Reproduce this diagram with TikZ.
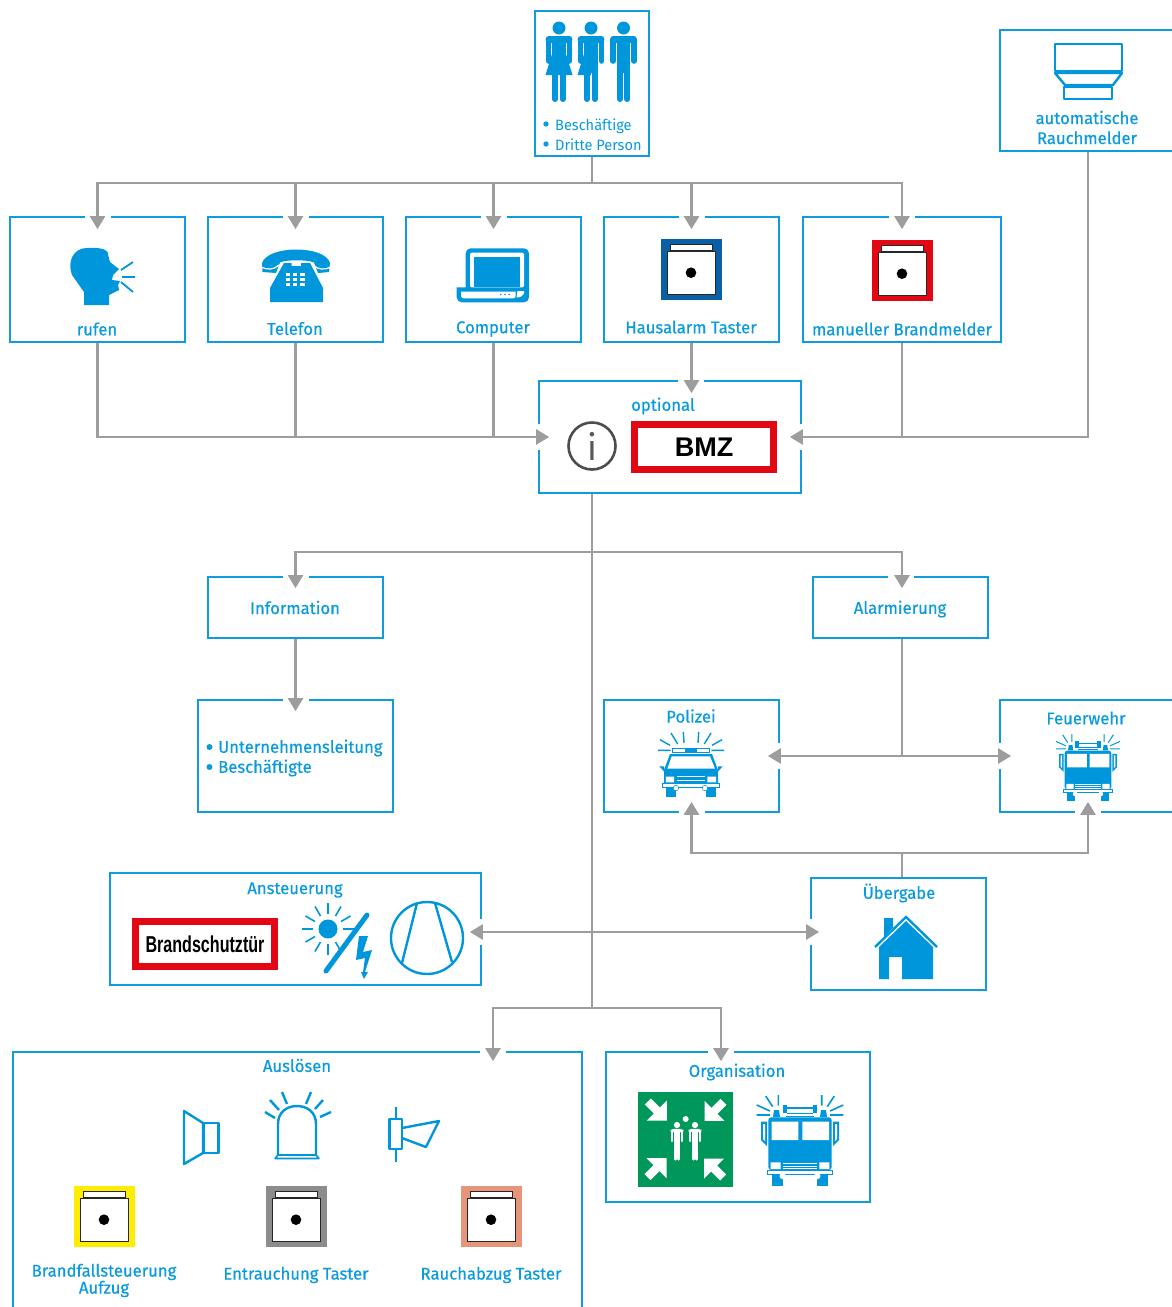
\documentclass[tikz,border=0pt]{standalone}
\usepackage{fontspec}
\setmainfont{Fira Sans}
\newfontfamily\lblfont[FakeStretch=0.98,FakeBold=0.45]{Fira Sans}
\newfontfamily\thinfont[FakeStretch=0.97]{Fira Sans}
\newfontfamily\signfont[FakeStretch=0.7]{Liberation Sans}
\usetikzlibrary{arrows.meta}
\definecolor{cblue}{HTML}{0F9BDC}
\definecolor{ctext}{HTML}{0A9BDE}
\definecolor{cicon}{HTML}{0096DB}
\definecolor{cgray}{HTML}{9D9D9D}
\definecolor{cred}{HTML}{E30613}
\definecolor{chaus}{HTML}{0B5FA5}
\definecolor{cyel}{HTML}{FFED00}
\definecolor{cdgray}{HTML}{8C8C8C}
\definecolor{csalm}{HTML}{E6957A}
\definecolor{cgreen}{HTML}{00985A}

\tikzset{
  bx/.style={draw=cblue,line width=1.7pt,fill=white,inner sep=0pt},
  lbl/.style={text=ctext,font=\lblfont\fontsize{17}{20}\selectfont,inner sep=0pt,align=center},
  line/.style={draw=cgray,line width=2.5pt},
  arr/.style={line,-{Triangle[width=15pt,length=13pt]}},
  arrboth/.style={line,{Triangle[width=15pt,length=13pt]}-{Triangle[width=15pt,length=13pt]}},
  ico/.style={draw=cicon,line width=2.4pt,line join=round},
  ray/.style={draw=cicon,line width=#1},
  sign/.style={draw=cred,line width=7.5pt,fill=white,minimum width=139pt,minimum height=45pt,inner sep=0pt},
  % push button with coloured frame
  taster/.pic={
    \fill[#1] (-30.5,-30.5) rectangle (30.5,30.5);
    \filldraw[fill=white,draw=black!85,line width=.9pt] (-24.2,-17.8) rectangle (24.2,24.5);
    \filldraw[fill=white,draw=black!85,line width=.9pt] (-21.3,-25.5) rectangle (21.3,-19.5);
    \fill[black] (-.5,3.2) circle(5.3);
  },
  % standing figure
  figscale/.initial=1,
  figure/.pic={
    \fill[#1] (0,0) circle(6.5);
    \fill[#1,rounded corners=3pt] (-13.3,15) -- (-13.3,8) -- (13.3,8) -- (13.3,15) -- cycle;
    \draw[#1,line width=5.6pt*\pgfkeysvalueof{/tikz/figscale},line cap=round] (-10.5,13) -- (-10.5,33) (10.5,13) -- (10.5,33);
    \fill[#1] (-6.8,12) rectangle (6.8,45);
    \draw[#1,line width=6pt*\pgfkeysvalueof{/tikz/figscale},line cap=round] (-3.9,40) -- (-3.9,71) (3.9,40) -- (3.9,71);
  },
  % front view of the fire engine
  engine/.pic={
    \foreach \s in {-1,1} {
      \begin{scope}[xscale=\s]
        \fill[cicon] (-39,-18.3) -- (-33,-18.3) -- (-33,6) -- (-39,0) -- cycle;
        \fill[white] (-37,-16) -- (-35,-16) -- (-35,1) -- (-37,-1) -- cycle;
        \draw[ray=#1] (-43.3,-35) -- (-30,-29) (-34.3,-44) -- (-27.3,-33.3) (-21.7,-45) -- (-21.7,-34.3) (-43.3,-25) -- (-30,-25);
        \fill[cicon] (-26,-30) -- (-21,-30) -- (-20,-23) -- (-27,-23) -- cycle;
        \fill[cicon] (-17.3,-35) rectangle (-12.7,-26.7);
        \fill[cicon] (-28.3,34) rectangle (-17.3,46);
      \end{scope}
    }
    \fill[cicon] (-12.7,-33.5) rectangle (12.7,-31);
    \draw[cicon,line width=.9pt] (-12.7,-26.5) -- (12.7,-26.5) (-14,-24) -- (14,-24);
    \fill[cicon,rounded corners=3pt] (-31.7,30) -- (-31.7,-22.7) -- (31.7,-22.7) -- (31.7,30) -- cycle;
    \fill[white] (-28.3,-18.3) rectangle (-1.7,0) (2.3,-18.3) rectangle (29,0);
    \fill[white] (-29.3,22.3) rectangle (-19.3,29) (19.3,22.3) rectangle (29.3,29);
    \draw[white,line width=.9pt] (-17,23) -- (17,23) (-17,26) -- (17,26) (-17,28.6) -- (17,28.6);
    \filldraw[fill=white,draw=cicon,line width=.9pt] (-32.7,30) rectangle (32.7,34.3);
    \fill[white] (-17.3,36) circle(3.2) (17.3,36) circle(3.2);
  },
  % corner arrow of the assembly sign
  corner/.pic={
    \fill[white] (0,0) -- (0,-20) -- (-7,-13) -- (-16,-22) -- (-22,-16) -- (-13,-7) -- (-20,0) -- cycle;
  }
}

% white break in a frame where an arrow enters
\newcommand{\gapflat}[2][]{\fill[white] ([#1,shift={(-13pt,-3pt)}]#2) rectangle ([#1,shift={(13pt,3pt)}]#2);}
\newcommand{\gapside}[2][]{\fill[white] ([#1,shift={(-3pt,-13pt)}]#2) rectangle ([#1,shift={(3pt,13pt)}]#2);}

\begin{document}
\begin{tikzpicture}[x=1pt,y=-1pt]
\useasboundingbox (0,0) rectangle (1172,1307);

        % draw the frames
        \node[bx,minimum width=114pt,minimum height=145pt] (persons) at (592,83.5) {};
        \node[bx,minimum width=176pt,minimum height=121pt] (detector) at (1088,90.5) {};
        \node[bx,minimum width=175pt,minimum height=125pt] (rufen) at (97.5,279.5) {};
        \node[bx,minimum width=175pt,minimum height=125pt] (telefon) at (295.5,279.5) {};
        \node[bx,minimum width=175pt,minimum height=125pt] (computer) at (493.5,279.5) {};
        \node[bx,minimum width=175pt,minimum height=125pt] (hausalarm) at (691.5,279.5) {};
        \node[bx,minimum width=198pt,minimum height=125pt] (manuell) at (902,279.5) {};
        \node[bx,minimum width=262pt,minimum height=112pt] (bmz) at (670,437) {};
        \node[bx,minimum width=175pt,minimum height=61pt] (information) at (295.5,607.5) {};
        \node[bx,minimum width=175pt,minimum height=61pt] (alarmierung) at (900.5,607.5) {};
        \node[bx,minimum width=195pt,minimum height=112pt] (leitung) at (295.5,756) {};
        \node[bx,minimum width=175pt,minimum height=112pt] (polizei) at (691.5,756) {};
        \node[bx,minimum width=176pt,minimum height=112pt] (feuerwehr) at (1088,756) {};
        \node[bx,minimum width=371pt,minimum height=112pt] (ansteuerung) at (295.5,929) {};
        \node[bx,minimum width=175pt,minimum height=112pt] (uebergabe) at (898.5,934) {};
        \node[bx,minimum width=569pt,minimum height=270pt] (ausloesen) at (297.5,1187) {};
        \node[bx,minimum width=264pt,minimum height=150pt] (organisation) at (738,1127) {};

        % breaks in the frames
        \foreach \n in {rufen,telefon,computer,hausalarm,manuell,information,alarmierung,leitung} {
                \gapflat{\n.north}
        }
        \gapflat[xshift=21pt]{bmz.north}
        \gapside{bmz.west}
        \gapside{bmz.east}
        \gapside{polizei.east}
        \gapside{feuerwehr.west}
        \gapflat{polizei.south}
        \gapflat{feuerwehr.south}
        \gapside[yshift=-3pt]{ansteuerung.east}
        \gapside[yshift=2pt]{uebergabe.west}
        \gapflat[xshift=195.5pt]{ausloesen.north}
        \gapflat[xshift=-17pt]{organisation.north}

        % the info sign and the central line
        \node[circle,draw=black!70,line width=2.6pt,minimum size=47pt,inner sep=0pt,text=black!65,font=\thinfont\fontsize{36}{36}\selectfont] (infosym) at (592,446) {i};
        \coordinate (forkin) at (592,183);
        \coordinate (forkout) at (592,552);
        \coordinate (forkend) at (592,1008);
        \coordinate (alarmjoin) at (902,756);
        \coordinate (handover) at (902,853);

        % arrows into the alarm boxes
        \draw[line] (persons.south) -- (forkin);
        \foreach \n in {rufen,telefon,computer,hausalarm,manuell} {
                \draw[arr] (forkin) -| ([yshift=-13pt]\n.north);
        }

        % arrows into the central box
        \draw[arr] (rufen.south) |- ([xshift=11pt]bmz.west);
        \draw[line] (telefon.south) -- (telefon.south |- bmz.west);
        \draw[line] (computer.south) -- (computer.south |- bmz.west);
        \draw[arr] (hausalarm.south) -- ([xshift=21.5pt,yshift=-13pt]bmz.north);
        \draw[arr] (detector.south) |- ([xshift=-12pt]bmz.east);
        \draw[line] (manuell.south) -- (manuell.south |- bmz.east);

        % arrows out of the central box
        \draw[line] (infosym.south |- bmz.south) -- (forkend);
        \draw[arr] (forkout) -| ([yshift=-12pt]information.north);
        \draw[arr] (forkout) -| ([xshift=1.5pt,yshift=-12pt]alarmierung.north);
        \draw[arr] (information.south) -- ([yshift=-12pt]leitung.north);
        \draw[line] (alarmierung.south -| alarmjoin) -- (alarmjoin);
        \draw[arrboth] ([xshift=-12pt]polizei.east) -- ([xshift=12pt]feuerwehr.west);
        \draw[line] (uebergabe.north -| handover) -- (handover);
        \draw[arr] (handover) -| ([yshift=11pt]polizei.south);
        \draw[arr] (handover) -| ([yshift=11pt]feuerwehr.south);
        \draw[arrboth] ([xshift=-12pt,yshift=-3pt]ansteuerung.east) -- ([xshift=9pt,yshift=2pt]uebergabe.west);
        \draw[arr] (forkend) -| ([xshift=195.5pt,yshift=-10pt]ausloesen.north);
        \draw[arr] (forkend) -| ([xshift=-17pt,yshift=-10pt]organisation.north);

        % draw the labels
        \node[text=ctext,font=\thinfont\fontsize{15}{20}\selectfont,anchor=west,inner sep=0pt,align=left] (lblpersons) at (555,135) {Beschäftige\\Dritte Person};
        \foreach \y in {124,144} {
                \fill[ctext] (546,\y) circle(2.7);
        }
        \node[lbl] (lbldetector) at (1087,127.5) {automatische\\Rauchmelder};
        \node[lbl] (lblrufen) at (97,329) {rufen};
        \node[lbl] (lbltelefon) at (295,328.5) {Telefon};
        \node[lbl] (lblcomputer) at (493,329) {Computer};
        \node[lbl] (lblhausalarm) at (691,327) {Hausalarm Taster};
        \node[lbl] (lblmanuell) at (902,329) {manueller Brandmelder};
        \node[lbl] (lbloptional) at (663,406) {optional};
        \node[lbl] (lblinformation) at (295,607.5) {Information};
        \node[lbl] (lblalarmierung) at (900,609) {Alarmierung};
        \node[lbl,anchor=west,align=left] (lblleitung) at (218,758) {Unternehmensleitung\\Beschäftigte};
        \foreach \y in {747,767} {
                \fill[ctext] (209.5,\y) circle(3);
        }
        \node[lbl] (lblpolizei) at (691,716) {Polizei};
        \node[lbl] (lblfeuerwehr) at (1086,718) {Feuerwehr};
        \node[lbl] (lblansteuerung) at (295,890) {Ansteuerung};
        \node[lbl] (lbluebergabe) at (899,893) {Übergabe};
        \node[lbl] (lblausloesen) at (297,1065.5) {Auslösen};
        \node[lbl] (lblorganisation) at (737,1072) {Organisation};
        \node[lbl,font=\lblfont\fontsize{17}{17}\selectfont] (lblaufzug) at (104,1280.5) {Brandfallsteuerung\\Aufzug};
        \node[lbl] (lblentrauchung) at (296,1275) {Entrauchung Taster};
        \node[lbl] (lblrauchabzug) at (491,1275) {Rauchabzug Taster};

        % the two fire door signs
        \node[sign,font=\fontspec{Liberation Sans}\bfseries\fontsize{27}{27}\selectfont] (signbmz) at (704,447) {BMZ};
        \node[sign,font=\signfont\bfseries\fontsize{23}{23}\selectfont] (signtuer) at (205,944) {Brandschutztür};

        % draw the three figures
        \foreach \x in {559,591,623.5} {
                \pic at (\x,28) {figure=cicon};
        }
        \fill[cicon] (552,54) -- (545.5,75) -- (572.5,75) -- (566,54) -- cycle;
        \fill[cicon] (584,54) -- (577.5,75) -- (591,75) -- (591,54) -- cycle;

        % the detector
        \draw[ico] (1055,44) rectangle (1122,71);
        \draw[ico] (1055,73) -- (1122,73) -- (1113,85) -- (1065,85) -- cycle;
        \draw[ico] (1064,87) rectangle (1112,99);

        % the speaking head
        \fill[cicon] (84,305) -- (84,292) -- (72,275) .. controls (67,262) and (73,248) .. (87,248) .. controls (97,247) and (106,249) .. (107.5,252) -- (110,262) -- (119,269) -- (113,275) -- (112,280) -- (120,281) -- (118,285) -- (119,290) -- (109,295) -- (109,305) -- cycle;
        \draw[ico,line width=1.8pt] (121,270) -- (133,262) (122,277) -- (135,277) (121,282) -- (133,292);

        % the telephone
        \fill[cicon] (262.5,272) -- (262,263) .. controls (268,245) and (325,245) .. (330,263) -- (329,272) -- (318,273) -- (314,262.5) .. controls (308,259.5) and (285,259.5) .. (280,262.5) -- (276,273) -- cycle;
        \fill[cicon] (270,302) -- (270,288) -- (284,263) -- (291.7,263) -- (291.7,266) -- (301,266) -- (301,263) -- (310,263) -- (323,288) -- (323,302) -- cycle;
        \draw[white,line width=1.2pt] (261,267) .. controls (267,270) and (274,270) .. (279,265) (331,267) .. controls (325,270) and (318,270) .. (313,265);
        \foreach \x in {287.7,295,302.5} {
                \foreach \y in {274.3,279.3,284.3} {
                        \fill[white] (\x-2.2,\y-1.7) rectangle (\x+2.2,\y+1.7);
                }
        }

        % the laptop
        \fill[cicon,rounded corners=5pt] (465.7,248.3) rectangle (529,296);
        \fill[cicon] (456.7,287.3) [rounded corners=5pt] -- (456.7,302.3) -- (529,302.3) [sharp corners] -- (529,287.3) -- cycle;
        \fill[white,rounded corners=1.5pt] (470,252.5) rectangle (524,287.3);
        \fill[cicon] (474,257.3) rectangle (520,287.3);
        \fill[white] (461,291.7) [rounded corners=2.5pt] -- (461,298.3) -- (515.7,298.3) [sharp corners] -- (515.7,291.7) -- cycle;
        \fill[white] (517.5,291) -- (524,291) -- (524,293.5) .. controls (523,296) and (520,297.5) .. (516.5,297.5) -- cycle;
        \fill[cicon] (500.7,294.5) circle(.9) (505,294.5) circle(.9) (509.3,294.5) circle(.9);

        % the push buttons
        \pic at (691.5,269.5) {taster=chaus};
        \pic at (902.5,270.5) {taster=cred};
        \pic at (104.5,1216.5) {taster=cyel};
        \pic at (296.5,1216.5) {taster=cdgray};
        \pic at (491.5,1216.5) {taster=csalm};

        % the patrol car
        \foreach \s in {-1,1} {
                \begin{scope}[shift={(691,0)},xscale=\s]
                        \draw[ray=1.4pt] (-33,750.3) -- (-20.3,750.3) (-31,739.7) -- (-21,745.3) (-20,733) -- (-13.3,744) (-7.7,732) -- (-7,743);
                        \fill[cicon] (-31.7,766.3) -- (-27,766.3) -- (-27,771.5) -- cycle;
                        \fill[cicon] (-25.3,788) rectangle (-15,797.3);
                \end{scope}
        }
        \filldraw[fill=white,draw=cicon,line width=.9pt] (672.7,748) rectangle (709.3,752.5);
        \fill[cicon] (685,748) rectangle (696.7,752.5);
        \fill[cicon] (670,754) -- (712,754) -- (718,770) -- (718,784) -- (664,784) -- (664,770) -- cycle;
        \fill[white] (667.3,768.7) -- (671.7,756.3) -- (710,756.3) -- (715,768.7) -- cycle;
        \fill[white] (665.8,776.6) rectangle (674,782.3) (707.3,776.6) rectangle (716,782.3);
        \draw[white,line width=.8pt] (676.5,776.8) -- (705,776.8) (676.5,780) -- (705,780);
        \filldraw[fill=white,draw=cicon,line width=.8pt] (662.7,783.7) rectangle (719.3,787);
        \filldraw[fill=white,draw=cicon,line width=.5pt] (676,788) circle(2.8) (705,788) circle(2.8);

        % the two fire engines
        \pic[scale=.74] at (1088,767.3) {engine=1pt};
        \pic at (800,1140) {engine=1.6pt};

        % sun, lightning and the drive
        \fill[cicon] (328,929) circle(9.5);
        \foreach \a in {30,60,90,120,150,180,210,240,270,300} {
                \draw[ray=1.6pt] (328,929) ++(-\a:15) -- ++(-\a:11);
        }
        \draw[ray=1.6pt] (343,929) -- (354,929);
        \draw[ico,line width=5pt,line cap=round] (367,915) -- (326,971);
        \fill[cicon] (359,936) -- (368,936) -- (363,952) -- (372,950) -- (365,972) -- (368,972) -- (364,979) -- (361,972) -- (363,972) -- (365,958) -- (356,960) -- cycle;
        \draw[ico] (427,938) circle(36);
        \draw[ico] (417,903) -- (402,963) (435,903) -- (452,962);

        % the house
        \fill[cicon] (884,918) -- (893,918) -- (893,928) -- (884,937) -- cycle;
        \fill[white] (874,948) -- (906,914) -- (938,948) -- cycle;
        \draw[ico,line join=miter] (875,947) -- (906,917) -- (937,947);
        \fill[cicon] (879,979) -- (879,947) -- (906,921) -- (933,947) -- (933,979) -- (902,979) -- (902,957) -- (889,957) -- (889,979) -- cycle;

        % the loudspeaker, the beacon and the horn
        \draw[ico] (184,1111) -- (203,1123) -- (203,1153) -- (184,1164) -- cycle;
        \draw[ico] (204,1123) rectangle (218.5,1153);
        \draw[ico] (265,1112) -- (275,1118) (270,1100) -- (279,1110) (282,1092) -- (287,1104) (311,1092) -- (306,1104) (323,1100) -- (315,1109) (331,1112) -- (320,1117);
        \draw[ico] (278,1155) -- (278,1124) .. controls (278,1112) and (287,1106) .. (297,1106) .. controls (307,1106) and (316,1112) .. (316,1124) -- (316,1155);
        \draw[ico,line width=1.6pt] (275,1158.5) -- (319,1158.5) -- (316,1155) -- (278,1155) -- cycle;
        \draw[ico] (396,1107) -- (396,1119) (396,1149) -- (396,1162);
        \draw[ico] (389.5,1119) rectangle (402,1149);
        \draw[ico] (402,1128) -- (439,1121) -- (426,1147) -- (402,1138);

        % the assembly point sign
        \fill[cgreen] (638,1092) rectangle (733,1187);
        \foreach \r in {0,90,180,270} {
                \begin{scope}[shift={(685.5,1139.5)},rotate=\r]
                        \pic[transform shape] at (-18.7,-19) {corner};
                \end{scope}
        }
        \begin{scope}[figscale=.48]
                \pic[scale=.48] at (677,1125) {figure=white};
                \pic[scale=.48] at (695,1125) {figure=white};
        \end{scope}
        \fill[white] (685.7,1119) circle(3);

\end{tikzpicture}
\end{document}
